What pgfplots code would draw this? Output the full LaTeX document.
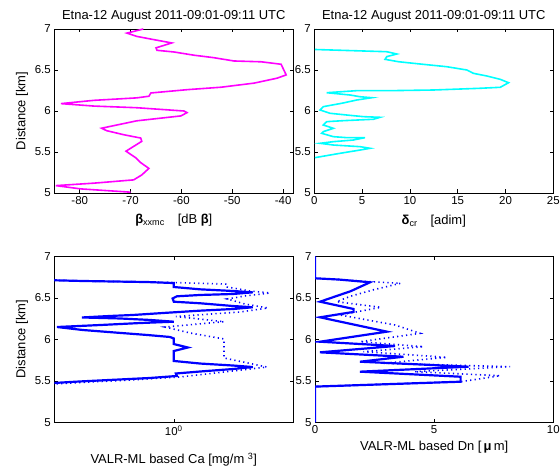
\documentclass[border=0pt]{standalone}
\usepackage{fontspec}
\setmainfont{Liberation Sans}
\usepackage{pgfplots}
\pgfplotsset{compat=1.18}
\definecolor{mag}{RGB}{255,0,255}
\definecolor{cy}{RGB}{0,255,255}
\definecolor{bl}{RGB}{0,0,255}
\begin{document}
\begin{tikzpicture}
\pgfplotsset{
 every axis/.append style={
  scale only axis, anchor=south west,
  font=\fontsize{11.5}{13}\selectfont,
  /pgf/number format/assume math mode=true,
  tick align=inside, major tick length=3.5bp,
  every tick/.style={black, line width=0.5bp},
  axis line style={line width=0.6bp},
  ymin=5, ymax=7, ytick={5,5.5,6,6.5,7},
  label style={font=\fontsize{13}{15}\selectfont},
  title style={font=\fontsize{13}{15}\selectfont, yshift=-3bp},
 },
 sol/.style={bl, line width=2.2bp},
 dot/.style={bl, line width=1.6bp, dash pattern=on 1.2bp off 3.3bp},
}
\path[use as bounding box] (0,0) rectangle (560bp,471bp);

% top-left
\begin{axis}[at={(54.3bp,278bp)}, width=239bp, height=164bp,
  xmin=-85, xmax=-38, xtick={-80,-70,-60,-50,-40},
  title={Etna-12 August 2011-09:01-09:11 UTC},
  ylabel={Distance [km]},
  xlabel style={yshift=-3bp},
  xlabel={{\bfseries β}\textsubscript{xxmc}\quad[dB {\bfseries β}]}]
\addplot[mag, line width=1.6bp] coordinates {
(-67.5,7.0)(-70.7,6.95)(-68.8,6.91)(-65.4,6.87)(-61.9,6.83)(-65.0,6.77)(-64.8,6.74)(-61.5,6.72)(-57.5,6.68)(-53.6,6.65)(-49.7,6.61)(-44.3,6.60)(-40.4,6.57)(-39.4,6.44)(-41.2,6.40)(-45.7,6.34)(-52.2,6.29)(-58.9,6.26)(-66.0,6.22)(-66.4,6.18)(-68.8,6.16)(-77.2,6.13)(-83.7,6.09)(-77.2,6.06)(-68.8,6.04)(-59.5,6.00)(-58.9,5.98)(-60.1,5.94)(-68.8,5.88)(-75.7,5.79)(-74.7,5.76)(-71.3,5.71)(-68.0,5.67)(-67.8,5.63)(-70.9,5.51)(-69.0,5.43)(-68.0,5.37)(-66.4,5.30)(-67.8,5.22)(-69.4,5.16)(-77.2,5.12)(-84.7,5.09)(-79.8,5.05)(-70.0,5.01)
};
\end{axis}

% top-right
\begin{axis}[at={(314.3bp,278bp)}, width=239bp, height=164bp,
  xmin=0, xmax=25, xtick={0,5,10,15,20,25},
  title={Etna-12 August 2011-09:01-09:11 UTC},
  xlabel style={yshift=-4bp},
  xlabel={{\bfseries δ}\textsubscript{cr}\quad[adim]}]
\addplot[cy, line width=1.6bp] coordinates {
(0.07,6.75)(7.58,6.723)(8.63,6.695)(7.58,6.663)(7.40,6.630)(8.80,6.601)(11.07,6.573)(13.86,6.540)(15.96,6.500)(16.65,6.459)(18.05,6.427)(19.45,6.386)(20.32,6.345)(19.45,6.289)(17.35,6.277)(12.46,6.256)(7.93,6.248)(4.44,6.248)(1.30,6.223)(3.74,6.195)(4.79,6.174)(6.01,6.162)(4.44,6.134)(2.87,6.094)(0.94,6.053)(0.60,6.012)(1.65,5.972)(3.39,5.951)(5.13,5.931)(6.88,5.923)(6.18,5.899)(3.04,5.882)(1.30,5.870)(0.94,5.829)(1.99,5.789)(0.94,5.748)(0.77,5.728)(1.99,5.687)(3.39,5.675)(5.31,5.675)(4.08,5.646)(1.99,5.626)(0.60,5.606)(1.99,5.585)(4.79,5.565)(5.83,5.545)(4.79,5.524)(2.69,5.484)(0.07,5.431)
};
\end{axis}

% bottom-left
\begin{axis}[at={(54.3bp,48.7bp)}, width=239bp, height=166bp,
  xmode=log, xmin=0.5, xmax=2, xtick={1}, xticklabels={10\textsuperscript{0}},
  minor xtick={},
  ylabel={Distance [km]},
  xlabel style={yshift=-10bp},
  xlabel={VALR-ML based Ca [mg/m \textsuperscript{3}]}]
\addplot[dot] coordinates {
(0.5,6.711)(0.597,6.702)(0.857,6.690)(1.0,6.684)(1.363,6.666)(1.363,6.630)(1.556,6.582)(1.746,6.558)(1.511,6.522)(1.363,6.486)(1.511,6.425)(1.726,6.377)(1.469,6.329)(1.012,6.275)(1.338,6.212)(0.95,6.148)(1.099,6.076)(1.338,6.004)(1.338,5.775)(1.716,5.666)(1.338,5.606)(1.036,5.546)(0.776,5.510)(0.5,5.462)
};
\addplot[sol] coordinates {
(0.5,6.711)(0.597,6.702)(0.857,6.690)(1.0,6.678)(1.0,6.630)(1.165,6.602)(1.41,6.582)(1.58,6.566)(1.41,6.546)(1.165,6.534)(1.018,6.518)(0.993,6.492)(1.0,6.453)(1.165,6.434)(1.41,6.401)(1.58,6.386)(1.41,6.365)(1.165,6.345)(0.962,6.320)(0.789,6.293)(0.69,6.281)(0.587,6.263)(0.732,6.251)(0.871,6.233)(1.0,6.212)(0.822,6.196)(0.652,6.172)(0.508,6.148)(0.59,6.112)(0.719,6.080)(0.857,6.052)(0.978,6.028)(1.0,6.010)(1.0,5.943)(1.085,5.901)(1.0,5.859)(1.0,5.739)(1.165,5.708)(1.41,5.684)(1.58,5.666)(1.41,5.642)(1.165,5.612)(1.012,5.588)(1.018,5.558)(0.871,5.534)(0.69,5.510)(0.58,5.492)(0.5,5.474)
};
\end{axis}

% bottom-right
\begin{axis}[at={(315bp,48.7bp)}, width=238.3bp, height=166bp,
  xmin=0, xmax=10, xtick={0,5,10},
  xlabel={VALR-ML based Dn [\,{\bfseries μ}\,m]}]
\addplot[dot] coordinates {
(0,7)(0,6.735)(1.0,6.72)(2.0,6.70)(3.59,6.675)(2.5,6.60)(1.5,6.52)(0.91,6.453)(2.76,6.385)(1.05,6.293)(3.36,6.172)(4.41,6.072)(1.89,5.971)(4.55,5.911)(2.03,5.851)(5.53,5.783)(2.86,5.711)(8.19,5.670)(4.17,5.610)(7.77,5.561)(6.11,5.489)(0,5.43)(0,5)
};
\addplot[sol] coordinates {
(0,7)(0,6.735)(1.0,6.72)(2.31,6.687)(1.5,6.58)(0.21,6.453)(1.62,6.365)(1.62,6.33)(0.21,6.265)(3.02,6.092)(0.21,5.971)(3.36,5.919)(0.21,5.843)(3.71,5.790)(1.89,5.730)(6.44,5.670)(1.89,5.610)(6.11,5.549)(6.11,5.489)(0,5.43)(0,5)
};
\end{axis}
\end{tikzpicture}
\end{document}
